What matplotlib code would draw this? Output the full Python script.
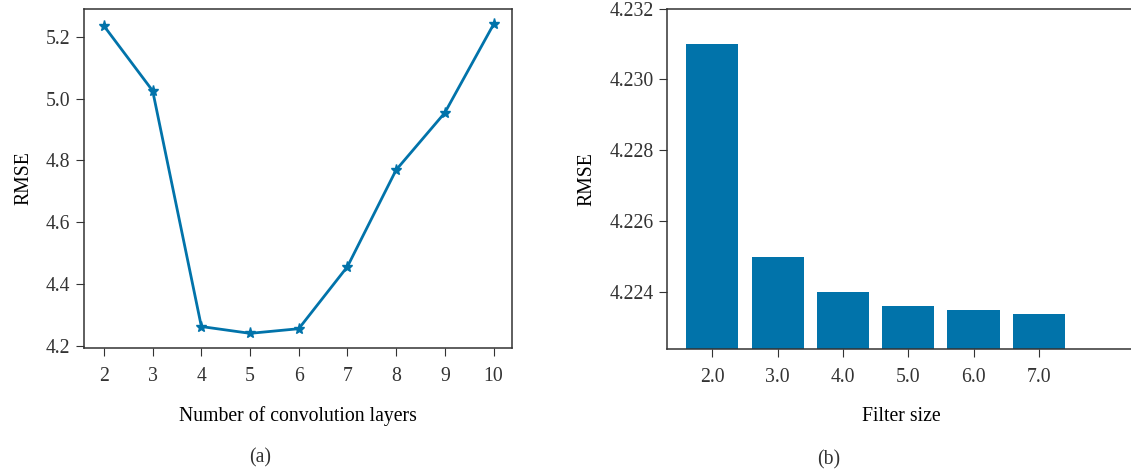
import matplotlib
import matplotlib.pyplot as plt

matplotlib.use("Agg")

# panel (a): RMSE vs number of convolution layers
layers = [2, 3, 4, 5, 6, 7, 8, 9, 10]
rmse_layers = [5.235, 5.025, 4.262, 4.240, 4.255, 4.456, 4.769, 4.954, 5.240]

# panel (b): RMSE vs filter size
filter_sizes = [2.0, 3.0, 4.0, 5.0, 6.0, 7.0]
filter_labels = ["2.0", "3.0", "4.0", "5.0", "6.0", "7.0"]
rmse_filters = [4.2310, 4.2250, 4.2240, 4.2236, 4.2235, 4.2234]

BLUE = "#0173aa"
INK = "#333333"

plt.rcParams["font.family"] = ["Liberation Serif", "DejaVu Serif"]
plt.rcParams["font.size"] = 14.2
plt.rcParams["axes.edgecolor"] = INK
plt.rcParams["axes.linewidth"] = 1.1
plt.rcParams["xtick.color"] = INK
plt.rcParams["ytick.color"] = INK
plt.rcParams["text.color"] = INK
plt.rcParams["xtick.major.size"] = 6
plt.rcParams["ytick.major.size"] = 6
plt.rcParams["xtick.major.pad"] = 8
plt.rcParams["ytick.major.pad"] = 4

fig = plt.figure(figsize=(11.31, 4.70), dpi=100)

ax1 = fig.add_axes([0.0743, 0.2596, 0.3784, 0.7213])
ax1.plot(layers, rmse_layers, color=BLUE, linewidth=2.0, marker="*", markersize=8)
ax1.set_xlim(1.59, 10.38)
ax1.set_ylim(4.1926, 5.29)
ax1.set_xticks(layers)
ax1.set_yticks([4.2, 4.4, 4.6, 4.8, 5.0, 5.2])
ax1.set_xlabel("Number of convolution layers", labelpad=14)
ax1.set_ylabel("RMSE", labelpad=9)
ax1.text(0.411, -0.325, "(a)", transform=ax1.transAxes, ha="center", va="center")

ax2 = fig.add_axes([0.590, 0.2574, 0.4135, 0.7245])
ax2.bar(filter_sizes, rmse_filters, width=0.8, color=BLUE)
ax2.set_xlim(1.31, 8.47)
ax2.set_ylim(4.2224, 4.232)
ax2.set_xticks(filter_sizes)
ax2.set_xticklabels(filter_labels)
ax2.set_yticks([4.224, 4.226, 4.228, 4.230, 4.232])
ax2.ticklabel_format(axis="y", useOffset=False)
ax2.set_xlabel("Filter size", labelpad=14)
ax2.set_ylabel("RMSE", labelpad=9)
ax2.text(0.346, -0.325, "(b)", transform=ax2.transAxes, ha="center", va="center")

fig.savefig("out.png", dpi=100)
